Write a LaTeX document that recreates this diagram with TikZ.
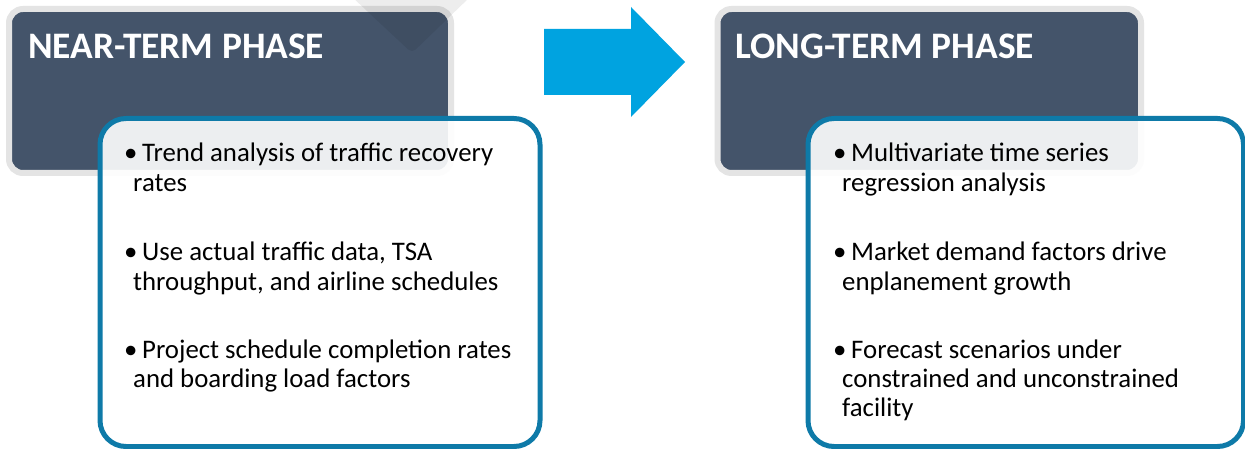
\documentclass[tikz,border=0pt]{standalone}
\usepackage{fontspec}
\setmainfont{Carlito}
\definecolor{slate}{HTML}{44546A}
\definecolor{framegray}{HTML}{E4E4E4}
\definecolor{boxblue}{RGB}{14,122,168}
\definecolor{arrowcyan}{RGB}{0,163,224}
\newcommand{\bul}{\makebox[14pt][l]{\hspace*{-4pt}•}}
\tikzset{
  phasebox/.style={rectangle, fill=slate, draw=framegray, line width=6pt, rounded corners=14pt, inner sep=0pt, anchor=north west},
  detailbox/.style={rectangle, fill=white, fill opacity=0.9, draw=boxblue, line width=5pt, rounded corners=26pt, inner sep=0pt, anchor=north west},
  phasetitle/.style={anchor=base west, inner sep=0pt, text=white, font=\fontsize{37.4}{40}\selectfont\bfseries},
  itemline/.style={anchor=base west, inner sep=0pt, text=black, font=\fontsize{26.8}{30}\selectfont},
  watermark/.style={fill=black, opacity=0.07, rounded corners=5pt}
}
\begin{document}
\begin{tikzpicture}[x=1pt,y=-1pt]
\useasboundingbox (0,0) rectangle (1245,449);
\fill[white] (0,0) rectangle (1245,449);
% dark phase boxes
\node[phasebox, minimum width=442pt, minimum height=164pt] (nearbox) at (6,6) {};
\node[phasebox, minimum width=423.5pt, minimum height=164pt] (longbox) at (714.5,6) {};
% watermark
\fill[watermark] (352,-3) -- (470,-3) -- (412,53) -- cycle;
% arrow
\fill[arrowcyan] (544,29) -- (631,29) -- (631,7) -- (685,62) -- (631,117) -- (631,95) -- (544,95) -- cycle;
% detail boxes
\node[detailbox, minimum width=440pt, minimum height=328pt] (neardetail) at (97.5,116) {};
\node[detailbox, minimum width=435.5pt, minimum height=328pt] (longdetail) at (805.5,116) {};
% titles
\node[phasetitle] (neartitle) at (28,59) {NEAR-TERM PHASE};
\node[phasetitle] (longtitle) at (735,59) {LONG-TERM PHASE};
% near-term items
\node[itemline] (n1a) at (128,162) {\bul Trend analysis of traffic recovery};
\node[itemline] (n1b) at (133,192) {rates};
\node[itemline] (n2a) at (128,260) {\bul Use actual traffic data, TSA};
\node[itemline] (n2b) at (133,290) {throughput, and airline schedules};
\node[itemline] (n3a) at (128,358) {\bul Project schedule completion rates};
\node[itemline] (n3b) at (133,387.5) {and boarding load factors};
% long-term items
\node[itemline] (l1a) at (837,162) {\bul Multivariate time series};
\node[itemline] (l1b) at (842,192) {regression analysis};
\node[itemline] (l2a) at (837,260) {\bul Market demand factors drive};
\node[itemline] (l2b) at (842,290) {enplanement growth};
\node[itemline] (l3a) at (837,358) {\bul Forecast scenarios under};
\node[itemline] (l3b) at (842,387) {constrained and unconstrained};
\node[itemline] (l3c) at (842,416) {facility};
\end{tikzpicture}
\end{document}
